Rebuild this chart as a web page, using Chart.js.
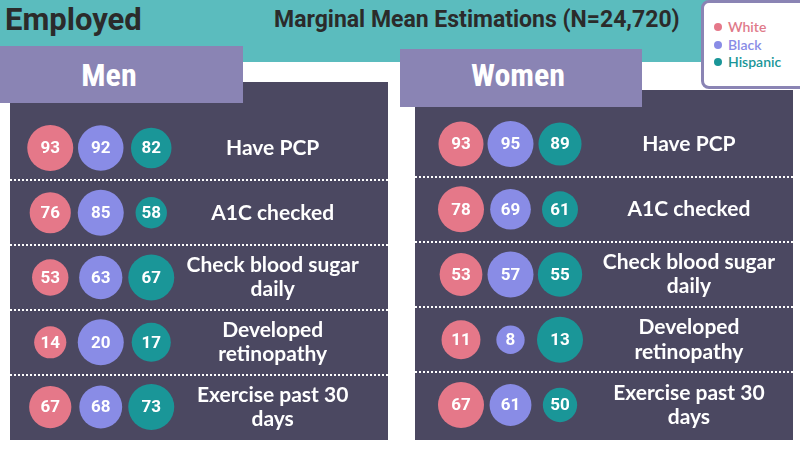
<!DOCTYPE html>
<html>
<head>
<meta charset="utf-8">
<title>Employed - Marginal Mean Estimations</title>
<script src="https://cdn.jsdelivr.net/npm/chart.js@4.4.1/dist/chart.umd.min.js"></script>
<style>
  body { margin: 0; width: 800px; height: 450px; overflow: hidden; position: relative; background: #fff; }
  .abs { position: absolute; }
  #band { left: 0; top: 0; width: 800px; height: 62px; background: #5bbcbe; }
  #title { left: 5px; top: 4px; font: 700 31px/31px Roboto, sans-serif; color: #2b2b2b; }
  #subtitle { left: 274px; top: 8px; font: 700 23px/23px Roboto, sans-serif; color: #2b2b2b; white-space: nowrap; }
  .panel { background: #4b4861; }
  .head { background: #8a84b4; color: #fff; display: flex; align-items: center; justify-content: center;
          font: 700 32px/32px 'Liberation Sans Narrow', 'Roboto Condensed', Roboto, sans-serif; box-sizing: border-box; }
  #legend { left: 701px; top: 0; width: 110px; height: 89px; box-sizing: border-box; background: #fff;
            border: 3px solid #8a84b4; border-radius: 8px; }
  .item { position: absolute; left: 24px; font: 600 14px/14px Lato, sans-serif; white-space: nowrap; }
  .item i { position: absolute; left: -14px; top: 3px; width: 8px; height: 8px; border-radius: 50%; }
</style>
</head>
<body>
<div id="band" class="abs"></div>
<div id="title" class="abs">Employed</div>
<div id="subtitle" class="abs">Marginal Mean Estimations (N=24,720)</div>

<div class="abs panel" style="left:10px;top:82px;width:378px;height:358px"></div>
<div class="abs panel" style="left:415px;top:90px;width:378px;height:350px"></div>
<div class="abs head" style="left:0;top:46px;width:243px;height:57px;padding-right:25px">Men</div>
<div class="abs head" style="left:400px;top:49px;width:242px;height:58px;padding-right:6px;padding-bottom:6px">Women</div>

<div class="abs" style="left:10px;top:103px;width:378px;height:337px"><canvas id="men"></canvas></div>
<div class="abs" style="left:415px;top:107px;width:378px;height:333px"><canvas id="women"></canvas></div>

<div id="legend" class="abs"></div>

<script>
// --- data ---
const series = ['White', 'Black', 'Hispanic'];
const measures = [
  ['Have PCP'],
  ['A1C checked'],
  ['Check blood sugar', 'daily'],
  ['Developed', 'retinopathy'],
  ['Exercise past 30', 'days']
];
const menWhite    = [93, 76, 53, 14, 67];
const menBlack    = [92, 85, 63, 20, 68];
const menHispanic = [82, 58, 67, 17, 73];
const womenWhite    = [93, 78, 53, 11, 67];
const womenBlack    = [95, 69, 57,  8, 61];
const womenHispanic = [89, 61, 55, 13, 50];

// --- style ---
const COLORS = ['#e57889', '#898ce6', '#1a9698'];
const LEGEND_TEXT = ['#e07a8a', '#898ce6', '#1a9698'];
const MAX_R = 23;

const rowKeys = measures.map(m => m.join(' '));

// legend
const legendEl = document.getElementById('legend');
series.forEach((s, i) => {
  const d = document.createElement('div');
  d.className = 'item';
  d.style.top = (17 + i * 17.5) + 'px';
  d.style.color = LEGEND_TEXT[i];
  d.innerHTML = `<i style="background:${COLORS[i]}"></i>${s}`;
  legendEl.appendChild(d);
});

// dotted lines between rows, across the full panel
const separators = {
  id: 'separators',
  beforeDatasetsDraw(chart) {
    const y = chart.scales.y, ctx = chart.ctx;
    ctx.save();
    ctx.strokeStyle = '#ffffff';
    ctx.lineWidth = 2;
    ctx.setLineDash([2, 2]);
    for (let i = 1; i < rowKeys.length; i++) {
      const py = Math.round((y.getPixelForTick(i - 1) + y.getPixelForTick(i)) / 2);
      ctx.beginPath();
      ctx.moveTo(0, py);
      ctx.lineTo(chart.width, py);
      ctx.stroke();
    }
    ctx.restore();
  }
};

// numbers inside bubbles
const bubbleText = {
  id: 'bubbleText',
  afterDatasetsDraw(chart) {
    const ctx = chart.ctx;
    ctx.save();
    ctx.fillStyle = '#ffffff';
    ctx.font = '700 17px Roboto, sans-serif';
    ctx.textAlign = 'center';
    ctx.textBaseline = 'middle';
    chart.data.datasets.forEach((ds, di) => {
      chart.getDatasetMeta(di).data.forEach((el, i) => {
        ctx.fillText(ds.data[i].v, el.x, el.y + 1);
      });
    });
    ctx.restore();
  }
};

function makeChart(id, cols, pad, axisWidth, labelPad) {
  const rowMax = rowKeys.map((_, i) => Math.max(...cols.map(c => c[i])));
  const datasets = cols.map((vals, j) => ({
    label: series[j],
    backgroundColor: COLORS[j],
    borderWidth: 0,
    data: vals.map((v, i) => ({ x: series[j], y: rowKeys[i], r: v / rowMax[i] * MAX_R, v }))
  }));

  return new Chart(document.getElementById(id), {
    type: 'bubble',
    data: { datasets },
    options: {
      responsive: true,
      maintainAspectRatio: false,
      animation: false,
      clip: false,
      layout: { padding: pad, autoPadding: false },
      plugins: { legend: { display: false }, tooltip: { enabled: false } },
      scales: {
        x: { type: 'category', labels: series, offset: true, display: false },
        y: {
          type: 'category',
          labels: rowKeys,
          offset: true,
          position: 'right',
          grid: { display: false },
          border: { display: false },
          afterFit: s => { s.width = axisWidth; s.paddingTop = 0; s.paddingBottom = 0; },
          ticks: {
            color: '#ffffff',
            crossAlign: 'center',
            padding: labelPad,
            font: { family: 'Lato', weight: '700', size: 21, lineHeight: 1.15 },
            callback: (v, i) => measures[i]
          }
        }
      }
    },
    plugins: [separators, bubbleText]
  });
}

makeChart('men', [menWhite, menBlack, menHispanic],
  { left: 15, top: 12.6, bottom: 0.6, right: 0 }, 211.5, 2);
makeChart('women', [womenWhite, womenBlack, womenHispanic],
  { left: 21.25, top: 4.4, bottom: 2.4, right: 0 }, 208.25, 10);
</script>
</body>
</html>
